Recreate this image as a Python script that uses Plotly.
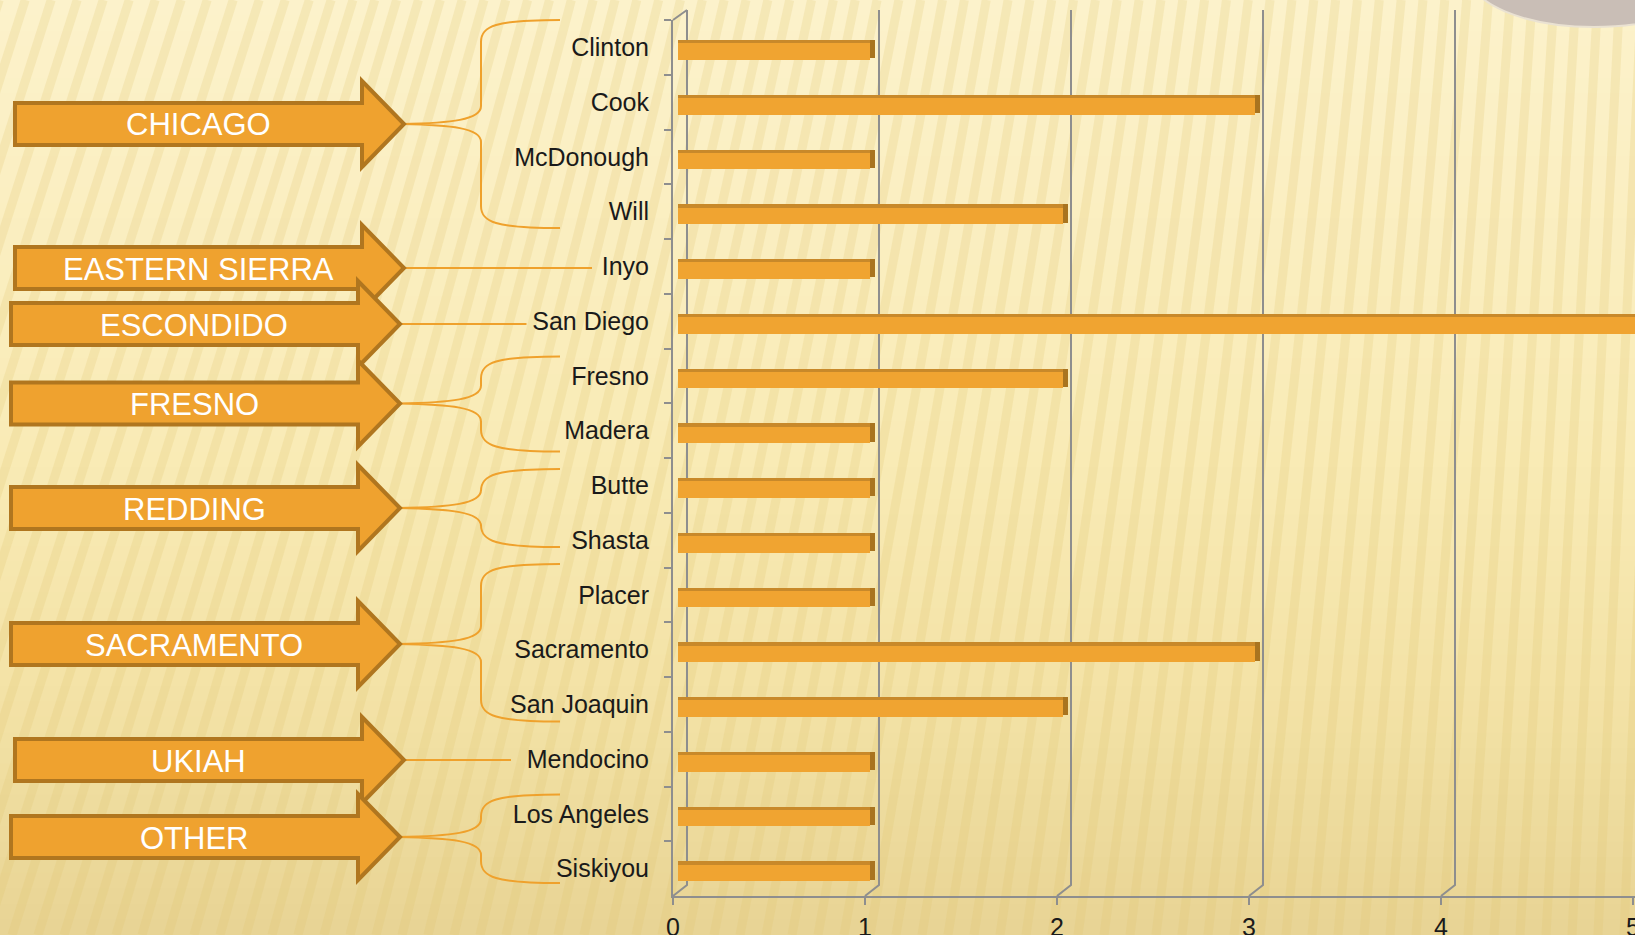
import plotly.graph_objects as go

# ---------------- data ----------------
CATEGORIES = ["Clinton", "Cook", "McDonough", "Will", "Inyo", "San Diego", "Fresno",
              "Madera", "Butte", "Shasta", "Placer", "Sacramento", "San Joaquin",
              "Mendocino", "Los Angeles", "Siskiyou"]
VALUES = [1, 3, 1, 2, 1, 5, 2, 1, 1, 1, 1, 3, 2, 1, 1, 1]
GROUP_NAMES = ["CHICAGO", "EASTERN SIERRA", "ESCONDIDO", "FRESNO", "REDDING",
               "SACRAMENTO", "UKIAH", "OTHER"]
GROUP_SIZES = [4, 1, 1, 2, 2, 3, 1, 2]
X_TICKS = [0, 1, 2, 3, 4, 5]

# ---------------- layout constants (pixels) ----------------
W, H = 1635, 935
PLOT_L, PLOT_R = 673, 1635
PLOT_T, PLOT_B = 20, 896
BAR_X0, BAR_UNIT = 677.5, 192.5
FRONT_X0, FRONT_UNIT = 673, 192
BACK_DX, BACK_TOP, BACK_BOT = 14, 10, 885
SLOT = (PLOT_B - PLOT_T) / len(CATEGORIES)

ORANGE = "#F0A431"
ORANGE_DARK = "#C8892A"
ORANGE_SIDE = "#A9741F"
ARROW_EDGE = "#B0761F"
GRID = "#8E8E8E"
FONT = "Liberation Sans, Arial, sans-serif"

# arrow layout: (center y, x shift)
ARROW_Y = [124, 268, 324, 403.5, 508, 644, 760, 837]
ARROW_DX = [3, 3, -1, -1, -1, -1, 3, -1]
BRACES = [(20, 228), None, None, (356.5, 451.5), (469, 547), (564, 721.5), None, (794.5, 883)]
LINE_END = [None, 592, 526.5, None, None, None, 511, None]


def fx(x):
    return x / W


def fy(y):
    return 1 - y / H


def pt(x, y):
    return f"{fx(x):.5f},{fy(y):.5f}"


x_range = [(PLOT_L - BAR_X0) / BAR_UNIT, (PLOT_R - BAR_X0) / BAR_UNIT]
x3_range = [(PLOT_L - FRONT_X0) / FRONT_UNIT, (PLOT_R - FRONT_X0) / FRONT_UNIT]

front_top = -4.4 / SLOT
front_w = 17 / SLOT
top_w = 2.8 / SLOT
side_depth = 5 / BAR_UNIT

fig = go.Figure()

fig.add_trace(go.Bar(
    y=CATEGORIES, x=VALUES, orientation="h", width=front_w, offset=front_top,
    marker=dict(color=ORANGE, line=dict(width=0)), hoverinfo="skip",
    xaxis="x", yaxis="y", showlegend=False))
fig.add_trace(go.Bar(
    y=CATEGORIES, x=VALUES, orientation="h", width=top_w + 0.005,
    offset=front_top - top_w,
    marker=dict(color=ORANGE_DARK, line=dict(width=0)), hoverinfo="skip",
    xaxis="x", yaxis="y", showlegend=False))
fig.add_trace(go.Bar(
    y=CATEGORIES, x=[side_depth] * len(VALUES), base=VALUES, orientation="h",
    width=front_w + top_w - 0.03, offset=front_top - top_w,
    marker=dict(color=ORANGE_SIDE, line=dict(width=0)), hoverinfo="skip",
    xaxis="x", yaxis="y", showlegend=False))
# dummy trace for the front tick axis
fig.add_trace(go.Scatter(x=[0], y=[CATEGORIES[0]], mode="markers",
                         marker=dict(opacity=0), hoverinfo="skip",
                         xaxis="x3", yaxis="y", showlegend=False))

shapes = []


def lerp(c1, c2, t):
    a = [int(c1[i:i + 2], 16) for i in (1, 3, 5)]
    b = [int(c2[i:i + 2], 16) for i in (1, 3, 5)]
    return "#" + "".join(f"{round(a[k] + (b[k] - a[k]) * t):02X}" for k in range(3))


# gradient background bands
stops = [(0, "#FCF2CB"), (450, "#F9EBB6"), (700, "#F3E2A6"), (935, "#E8D494")]
N = 60
for i in range(N):
    y0 = i * H / N
    y1 = (i + 1) * H / N + 1
    ym = (y0 + y1) / 2
    col = stops[-1][1]
    for j in range(len(stops) - 1):
        if stops[j][0] <= ym <= stops[j + 1][0]:
            t = (ym - stops[j][0]) / (stops[j + 1][0] - stops[j][0])
            col = lerp(stops[j][1], stops[j + 1][1], t)
            break
    shapes.append(dict(type="rect", xref="paper", yref="paper", layer="below",
                       x0=0, x1=1, y0=fy(y1), y1=fy(y0), fillcolor=col,
                       line=dict(width=0)))

# faint shadow stripes (slanted on the left, near vertical on the right)
xs = -300
while xs < W + 40:
    frac = min(max(xs / W, 0), 1)
    slant = 0.32 * (1 - frac) + 0.04 * frac
    shapes.append(dict(type="line", xref="paper", yref="paper", layer="below",
                       x0=fx(xs), y0=fy(H), x1=fx(xs + slant * H), y1=fy(0),
                       line=dict(color="rgba(225,195,110,0.22)", width=9)))
    xs += 26

# basket in corner
shapes.append(dict(type="circle", xref="paper", yref="paper", layer="below",
                   x0=fx(1468), x1=fx(1720), y0=fy(27), y1=fy(-80),
                   fillcolor="#C9BEB6", line=dict(color="#EAE2D2", width=2)))

# 3D gridlines (back wall + floor diagonals)
for k in X_TICKS:
    front = FRONT_X0 + FRONT_UNIT * k
    back = front + BACK_DX
    if back > W:
        continue
    shapes.append(dict(type="path", xref="paper", yref="paper", layer="below",
                       path=f"M {pt(back, BACK_TOP)} L {pt(back, BACK_BOT)} L {pt(front, PLOT_B)}",
                       line=dict(color=GRID, width=2)))
shapes.append(dict(type="path", xref="paper", yref="paper", layer="below",
                   path=f"M {pt(FRONT_X0, PLOT_T)} L {pt(FRONT_X0 + BACK_DX, BACK_TOP)}",
                   line=dict(color=GRID, width=2)))

# connectors (braces / lines)
BRACE_X, BRACE_END = 481, 560
annotations = []
for g, name in enumerate(GROUP_NAMES):
    yc = ARROW_Y[g]
    dx = ARROW_DX[g]
    tip = 399 + dx
    if BRACES[g] is not None:
        top, bot = BRACES[g]
        path = (f"M {pt(BRACE_END, top)} C {pt(BRACE_X + 14, top)} {pt(BRACE_X, top + 6)} {pt(BRACE_X, top + 22)} "
                f"L {pt(BRACE_X, yc - 18)} C {pt(BRACE_X, yc - 4)} {pt(BRACE_X - 30, yc - 1)} {pt(tip, yc)} "
                f"C {pt(BRACE_X - 30, yc + 1)} {pt(BRACE_X, yc + 4)} {pt(BRACE_X, yc + 18)} "
                f"L {pt(BRACE_X, bot - 22)} C {pt(BRACE_X, bot - 6)} {pt(BRACE_X + 14, bot)} {pt(BRACE_END, bot)}")
    else:
        path = f"M {pt(tip, yc)} L {pt(LINE_END[g], yc)}"
    shapes.append(dict(type="path", xref="paper", yref="paper", layer="above",
                       path=path, line=dict(color="#EFA12C", width=2)))

# arrows
for g, name in enumerate(GROUP_NAMES):
    yc = ARROW_Y[g]
    dx = ARROW_DX[g]
    left = 12 + dx
    neck = 359 + dx
    tip = 401 + dx
    sh, hh = 21, 43
    path = (f"M {pt(left, yc - sh)} L {pt(neck, yc - sh)} L {pt(neck, yc - hh)} L {pt(tip, yc)} "
            f"L {pt(neck, yc + hh)} L {pt(neck, yc + sh)} L {pt(left, yc + sh)} Z")
    shapes.append(dict(type="path", xref="paper", yref="paper", layer="above",
                       path=path, fillcolor="#EFA22F",
                       line=dict(color=ARROW_EDGE, width=4)))
    annotations.append(dict(xref="paper", yref="paper", x=fx(195 + dx), y=fy(yc + 1),
                            text=name, showarrow=False, xanchor="center", yanchor="middle",
                            font=dict(family=FONT, size=31, color="white")))

fig.update_layout(
    width=W, height=H,
    margin=dict(l=0, r=0, t=0, b=0, pad=0),
    paper_bgcolor="#FCF2CB",
    plot_bgcolor="rgba(0,0,0,0)",
    barmode="overlay",
    bargap=0,
    shapes=shapes,
    annotations=annotations,
    xaxis=dict(domain=[fx(PLOT_L), 1], range=x_range, showgrid=False, zeroline=False,
               showticklabels=False, showline=False, ticks="", automargin=False,
               fixedrange=True),
    xaxis3=dict(domain=[fx(PLOT_L), 1], range=x3_range, overlaying="x", anchor="y",
                side="bottom", showgrid=False, zeroline=False,
                tickvals=X_TICKS, ticktext=[str(v) for v in X_TICKS],
                ticks="outside", ticklen=7, tickwidth=2, tickcolor=GRID,
                showline=True, linecolor=GRID, linewidth=2,
                tickfont=dict(family=FONT, size=25, color="#1A1A1A"),
                ticklabelstandoff=1, ticklabeloverflow="allow",
                automargin=False, fixedrange=True),
    yaxis=dict(domain=[fy(PLOT_B), fy(PLOT_T)], type="category",
               categoryorder="array", categoryarray=CATEGORIES,
               range=[len(CATEGORIES) - 0.5, -0.5],
               showgrid=False, zeroline=False, showline=True, linecolor=GRID, linewidth=2,
               ticks="outside", ticklen=7, tickwidth=2, tickcolor=GRID, tickson="boundaries",
               tickfont=dict(family=FONT, size=25, color="#1A1A1A"),
               ticklabelstandoff=17, automargin=False, fixedrange=True),
)

fig.write_html("out.html", config={"displayModeBar": False},
               post_script="document.body.style.margin='0';document.body.style.overflow='hidden';")
